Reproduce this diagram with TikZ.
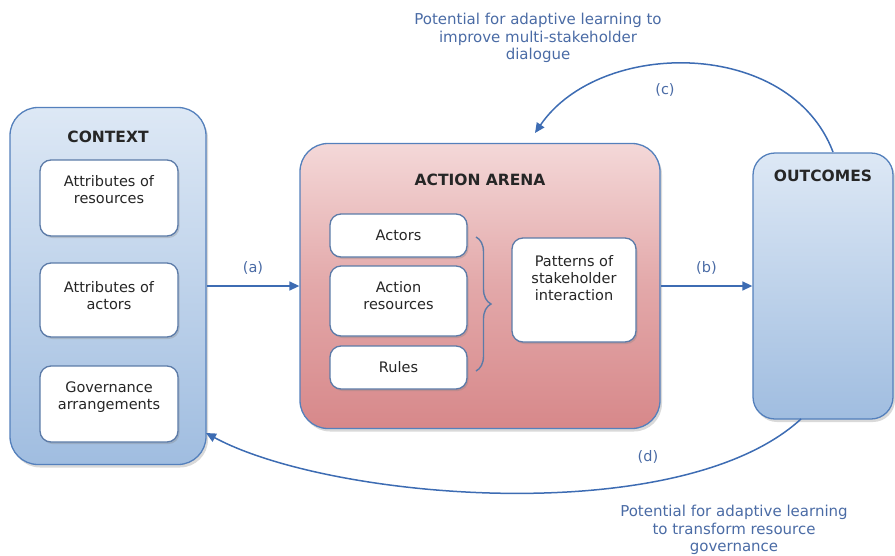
\documentclass[tikz,border=0pt]{standalone}
\usepackage{fontspec}
\setmainfont{DejaVu Sans}
\usetikzlibrary{arrows.meta,shadows,decorations.pathreplacing,calc}
\definecolor{ctxtop}{HTML}{DDE8F5}
\definecolor{ctxbot}{HTML}{A0BDE0}
\definecolor{artop}{HTML}{F4D8D8}
\definecolor{arbot}{HTML}{D7888A}
\definecolor{outborder}{HTML}{5480BC}
\definecolor{inborder}{HTML}{5C7BA8}
\definecolor{arrowc}{HTML}{3D6CB3}
\definecolor{labc}{HTML}{4A6BA5}
\tikzset{
  bigbox/.style={draw=outborder, line width=1.3pt, rounded corners=28pt,
    drop shadow={shadow xshift=2pt,shadow yshift=-3pt,opacity=0.3}},
  bluebox/.style={bigbox, top color=ctxtop, bottom color=ctxbot},
  pinkbox/.style={bigbox, top color=artop, bottom color=arbot, middle color=artop!40!arbot},
  boxtext/.style={align=center, font=\fontsize{14.5}{17}\selectfont, text=black!85},
  inbox/.style={draw=inborder, line width=1.3pt, fill=white, rounded corners=11pt,
    drop shadow={shadow xshift=1.5pt,shadow yshift=-2pt,opacity=0.3}},
  ttl/.style={font=\fontsize{15.5}{18}\selectfont\bfseries, text=black!85},
  conn/.style={draw=arrowc, line width=1.5pt, -{Triangle[length=10pt,width=9pt]}},
  lbl/.style={text=labc, font=\fontsize{14.5}{17}\selectfont},
  note/.style={text=labc, align=center, font=\fontsize{15}{17.5}\selectfont},
}
\begin{document}
\begin{tikzpicture}[x=1pt,y=-1pt]
\useasboundingbox (0,0) rectangle (895,555);
% main boxes
\node[bluebox, minimum width=196pt, minimum height=357pt] (ctx) at (108,286) {};
\node[pinkbox, minimum width=360pt, minimum height=285pt] (arena) at (480,286) {};
\node[bluebox, rounded corners=22pt, minimum width=140pt, minimum height=266pt] (out) at (823,286) {};
% titles
\node[ttl] (ctxt) at (108,137) {CONTEXT};
\node[ttl] (arent) at (480,180) {ACTION ARENA};
\node[ttl] (outt) at (823,176) {OUTCOMES};
% context inner
\node[inbox, minimum width=138pt, minimum height=76pt] (res) at (109,198) {};
\node[boxtext] (rest) at (109,190) {Attributes of\\resources};
\node[inbox, minimum width=138pt, minimum height=74pt] (act) at (109,300) {};
\node[boxtext] (actt) at (109,296) {Attributes of\\actors};
\node[inbox, minimum width=138pt, minimum height=76pt] (gov) at (109,404) {};
\node[boxtext] (govt) at (109,397) {Governance\\arrangements};
% arena inner
\node[inbox, minimum width=137pt, minimum height=43pt] (actors) at (398.5,235.5) {};
\node[boxtext] (actorst) at (398.5,235.5) {Actors};
\node[inbox, minimum width=137pt, minimum height=70pt] (actres) at (398.5,301) {};
\node[boxtext] (actrest) at (398.5,296) {Action\\resources};
\node[inbox, minimum width=137pt, minimum height=43pt] (rules) at (398.5,367.5) {};
\node[boxtext] (rulest) at (398.5,367) {Rules};
\node[inbox, minimum width=124pt, minimum height=104pt] (pat) at (574,290) {};
\node[boxtext] (patt) at (574,278) {Patterns of\\stakeholder\\interaction};
% brace
\coordinate (brt) at (476,237);
\coordinate (brb) at (476,371);
\draw[draw=inborder, line width=1.4pt, decorate, decoration={brace, amplitude=15pt}] (brt) -- (brb);
% arrows a, b
\draw[conn] (ctx.east) -- node[lbl, above=8pt] (la) {(a)} (arena.west);
\draw[conn] (arena.east) -- node[lbl, above=8pt] (lb) {(b)} (out.west);
% arrow c
\coordinate (cs) at (833,152);
\coordinate (ce) at (535,133);
\draw[conn] (cs) .. controls (790,38) and (600,38) .. (ce);
\node[lbl] (lc) at (665,90) {(c)};
% arrow d
\coordinate (ds) at (801,419);
\coordinate (de) at (206,433);
\draw[conn] (ds) .. controls (680,530) and (330,500) .. (de);
\node[lbl] (ld) at (648,457) {(d)};
% notes
\node[note] (ntop) at (538,38) {Potential for adaptive learning to\\improve multi-stakeholder\\dialogue};
\node[note] (nbot) at (734,530) {Potential for adaptive learning\\to transform resource\\governance};
\end{tikzpicture}
\end{document}
